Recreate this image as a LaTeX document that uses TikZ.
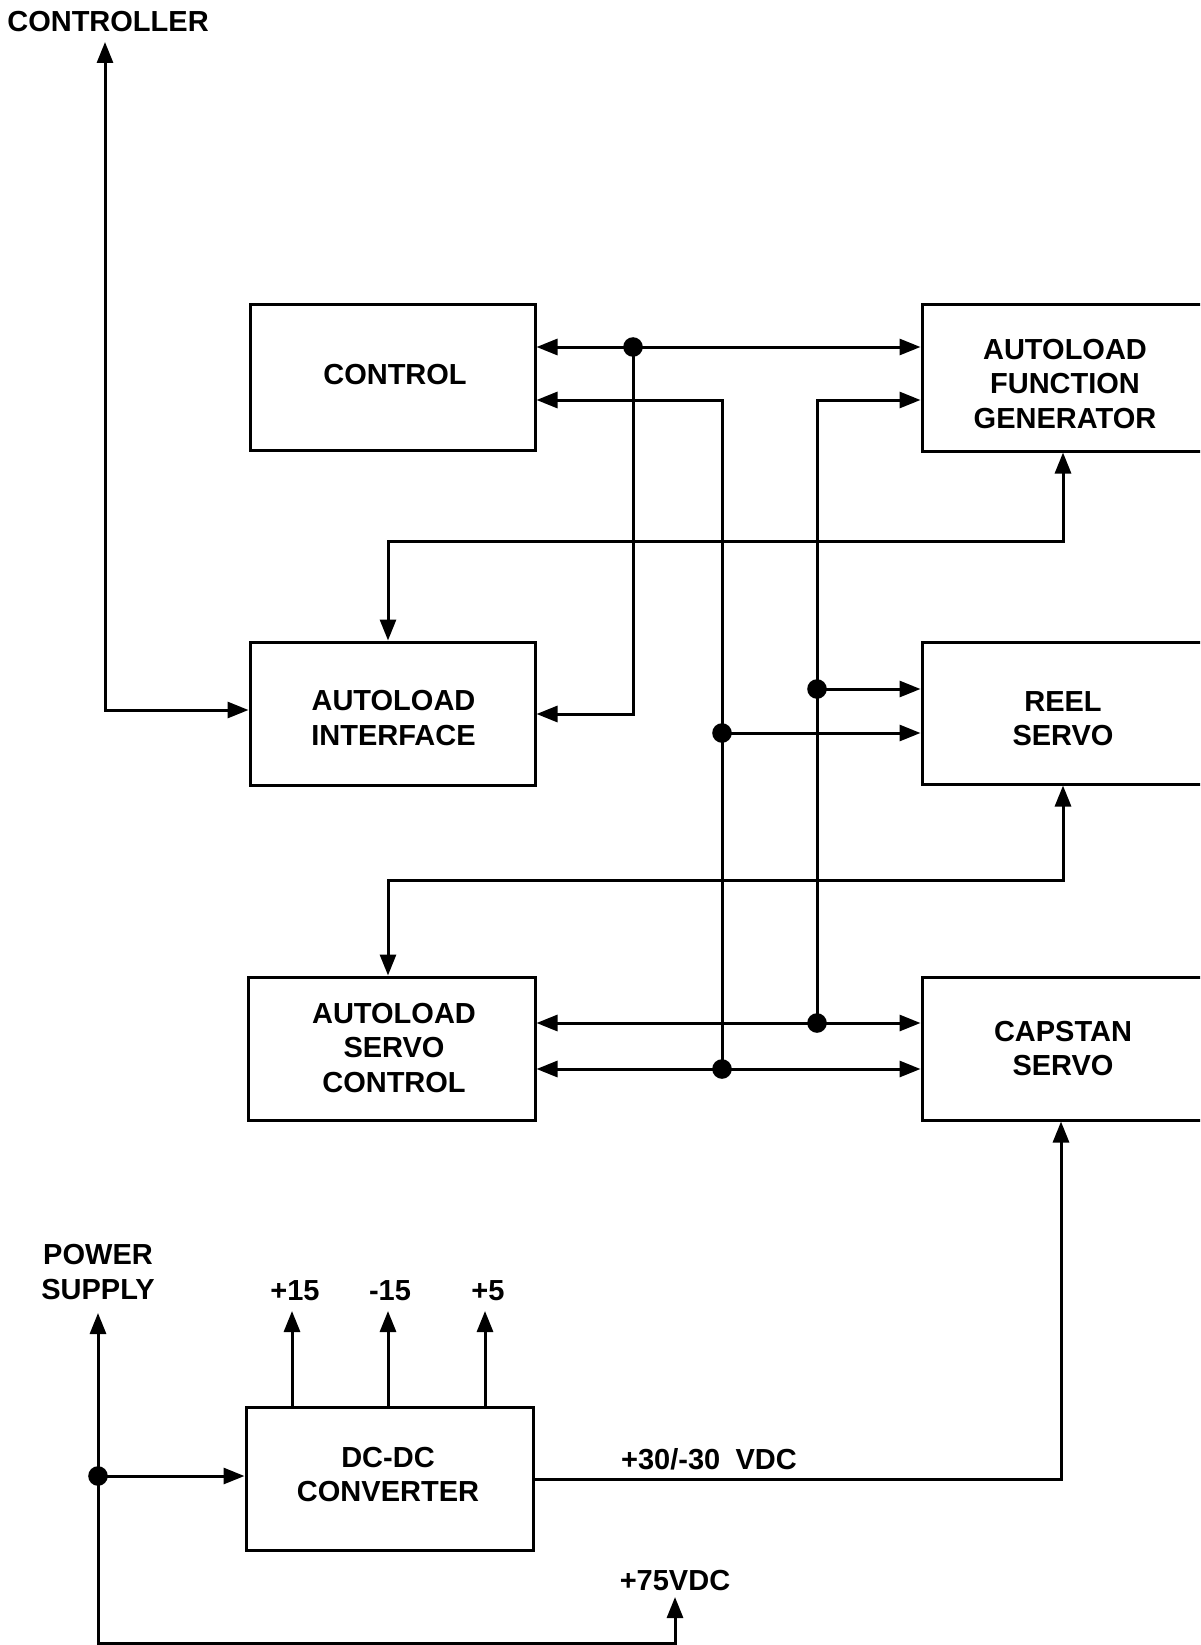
\documentclass[tikz,border=0pt]{standalone}
\usepackage{fontspec}
\setmainfont{Liberation Sans}
\usetikzlibrary{arrows.meta}
\tikzset{
  tri/.tip={Triangle[length=21pt,width=16pt]},
  wire/.style={line width=3pt},
  blk/.style={draw, line width=3pt, inner sep=0pt},
  lbl/.style={align=center, inner sep=0pt},
  dotc/.style={fill=black}
}
\begin{document}
\begin{tikzpicture}[x=1pt,y=-1pt,
  every node/.append style={font=\fontsize{29}{34.5}\selectfont\bfseries}]
\useasboundingbox (0,0) rectangle (1200,1645);
\fill[white] (0,0) rectangle (1200,1645);
\clip (0,0) rectangle (1200,1645);

% blocks
\node[blk, minimum width=285pt, minimum height=146pt] (ctrl) at (392.5,377) {};
\node[blk, minimum width=286pt, minimum height=147pt] (afg) at (1065,377.5) {};
\node[blk, minimum width=285pt, minimum height=143pt] (ai) at (392.5,713.5) {};
\node[blk, minimum width=286pt, minimum height=142pt] (reel) at (1065,713) {};
\node[blk, minimum width=287pt, minimum height=143pt] (asc) at (391.5,1048.5) {};
\node[blk, minimum width=286pt, minimum height=143pt] (cap) at (1065,1048.5) {};
\node[blk, minimum width=287pt, minimum height=143pt] (dcdc) at (389.5,1478.5) {};

% block texts
\node[lbl] (ctrlt) at (395,374.5) {CONTROL};
\node[lbl] (afgt) at (1065,384) {AUTOLOAD\\FUNCTION\\GENERATOR};
\node[lbl] (ait) at (393.5,718) {AUTOLOAD\\INTERFACE};
\node[lbl] (reelt) at (1063,718.5) {REEL\\SERVO};
\node[lbl] (asct) at (394,1048) {AUTOLOAD\\SERVO\\CONTROL};
\node[lbl] (capt) at (1063,1048.5) {CAPSTAN\\SERVO};
\node[lbl] (dcdct) at (388,1474.5) {DC-DC\\CONVERTER};

% labels
\node[lbl] (controller) at (108,22) {CONTROLLER};
\node[lbl] (ps) at (98,1272) {POWER\\SUPPLY};
\node[lbl] (p15) at (295,1291) {+15};
\node[lbl] (m15) at (390,1291) {-15};
\node[lbl] (p5) at (488,1291) {+5};
\node[lbl] (v30) at (709,1459) {+30/-30\hspace{0.25em} VDC};
\node[lbl] (v75) at (675,1580) {+75VDC};

% coordinates
\coordinate (ctip) at (105,42);
\coordinate (ccor) at (105,710);
\coordinate (j1) at (633,347);
\coordinate (j1b) at (633,714);
\coordinate (j2t) at (722,400);
\coordinate (j2a) at (722,733);
\coordinate (j2b) at (722,1069);
\coordinate (j3t) at (817,400);
\coordinate (j3a) at (817,689);
\coordinate (j3b) at (817,1023);
\coordinate (a1) at (1063,541);
\coordinate (a2) at (388,541);
\coordinate (b1) at (1063,880);
\coordinate (b2) at (388,880);
\coordinate (k1) at (1061,1479);
\coordinate (pstip) at (98,1313);
\coordinate (psdot) at (98,1476);
\coordinate (pscor) at (98,1643);
\coordinate (v75cor) at (675,1643);
\coordinate (v75tip) at (675,1597);
\coordinate (t15) at (292,1311);
\coordinate (tm15) at (388,1311);
\coordinate (t5) at (485,1311);

% connectors
\draw[wire,{tri}-{tri}] (ctip) -- (ccor) -- (ai.west |- ccor);
\draw[wire,{tri}-{tri}] (ctrl.east |- j1) -- (afg.west |- j1);
\draw[wire,-{tri}] (j1) -- (j1b) -- (ai.east |- j1b);
\draw[wire,-{tri}] (j2b) -- (j2t) -- (ctrl.east |- j2t);
\draw[wire,-{tri}] (j3b) -- (j3t) -- (afg.west |- j3t);
\draw[wire,-{tri}] (j3a) -- (reel.west |- j3a);
\draw[wire,-{tri}] (j2a) -- (reel.west |- j2a);
\draw[wire,{tri}-{tri}] (asc.east |- j3b) -- (cap.west |- j3b);
\draw[wire,{tri}-{tri}] (asc.east |- j2b) -- (cap.west |- j2b);
\draw[wire,{tri}-{tri}] (afg.south -| a1) -- (a1) -- (a2) -- (ai.north -| a2);
\draw[wire,{tri}-{tri}] (reel.south -| b1) -- (b1) -- (b2) -- (asc.north -| b2);
\draw[wire,-{tri}] (dcdc.east |- k1) -- (k1) -- (cap.south -| k1);
\draw[wire,-{tri}] (dcdc.north -| t15) -- (t15);
\draw[wire,-{tri}] (dcdc.north -| tm15) -- (tm15);
\draw[wire,-{tri}] (dcdc.north -| t5) -- (t5);
\draw[wire,{tri}-{tri}] (pstip) -- (pscor) -- (v75cor) -- (v75tip);
\draw[wire,-{tri}] (psdot) -- (dcdc.west |- psdot);

% junction dots
\foreach \j in {j1,j2a,j2b,j3a,j3b,psdot}
  \fill[dotc] (\j) circle (9.8pt);
\end{tikzpicture}
\end{document}
